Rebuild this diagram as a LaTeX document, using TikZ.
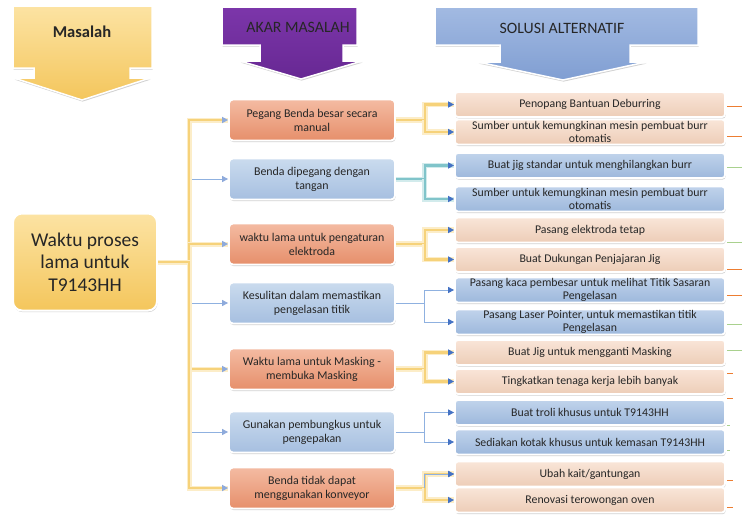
\documentclass[tikz,border=0pt]{standalone}
\usepackage{fontspec}
\setmainfont{Carlito}
\usepackage{xcolor}
\usepackage{tikz}
\usetikzlibrary{positioning,arrows.meta,shadows}

\definecolor{goldtop}{HTML}{FCE3A3}
\definecolor{goldbot}{HTML}{F4C65C}
\definecolor{purptop}{HTML}{7C36AA}
\definecolor{purpbot}{HTML}{672893}
\definecolor{soltop}{HTML}{A2BAE2}
\definecolor{solbot}{HTML}{809ED2}
\definecolor{midrtop}{HTML}{F4BBA2}
\definecolor{midrbot}{HTML}{E68F6B}
\definecolor{midbtop}{HTML}{CADBEE}
\definecolor{midbbot}{HTML}{A6BFE0}
\definecolor{solrtop}{HTML}{F9E5D8}
\definecolor{solrbot}{HTML}{EDCDB7}
\definecolor{solbtop}{HTML}{C0D3EB}
\definecolor{solbbot}{HTML}{9DB8DC}
\definecolor{yline}{HTML}{F6D27A}
\definecolor{yglow}{HTML}{FCEDC8}
\definecolor{tline}{HTML}{80C4CA}
\definecolor{tglow}{HTML}{D2EBEC}
\definecolor{bline}{HTML}{8FB1E0}
\definecolor{tipblue}{HTML}{4472C4}
\definecolor{tiplight}{HTML}{8EAADB}
\definecolor{stubor}{HTML}{ED7D31}
\definecolor{stubgr}{HTML}{A9D18E}
\definecolor{txt}{HTML}{262626}

\tikzset{
  softshadow/.style={drop shadow={shadow xshift=0.6pt,shadow yshift=-1.6pt,opacity=0.3,fill=black!60}},
  hdrshape/.style={draw=white,line width=1.5pt,softshadow},
  hdrtext/.style={text=txt,font=\fontsize{15.8}{17}\selectfont},
  mainbox/.style={rounded corners=9pt,draw=white,line width=2pt,softshadow,
    top color=goldtop,bottom color=goldbot,minimum width=144pt,minimum height=97pt,
    align=center,text=txt,font=\fontsize{19.5}{22.5}\selectfont},
  midbox/.style={rounded corners=4pt,draw=white,line width=1.8pt,softshadow,
    minimum width=166pt,minimum height=41pt,inner sep=1pt,
    align=center,text=txt,font=\fontsize{11.9}{14}\selectfont},
  midred/.style={midbox,top color=midrtop,bottom color=midrbot},
  midblue/.style={midbox,top color=midbtop,bottom color=midbbot},
  solbox/.style={rounded corners=3pt,draw=white,line width=1.8pt,softshadow,
    minimum width=270pt,minimum height=25pt,inner sep=1pt,
    align=center,text=txt,font=\fontsize{11.8}{12.5}\selectfont},
  solred/.style={solbox,top color=solrtop,bottom color=solrbot},
  solblue/.style={solbox,top color=solbtop,bottom color=solbbot},
  ybranch/.style={draw=yline,line width=2pt,-{Triangle[length=6pt,width=6pt,color=tiplight]},
    preaction={draw=yglow,line width=5pt,-}},
  bbranch/.style={draw=bline,line width=0.9pt,-{Triangle[length=6pt,width=6pt,color=tiplight]}},
  yfork/.style={draw=yline,line width=2.2pt,-{Triangle[length=6pt,width=6pt,color=tipblue]},
    preaction={draw=yglow,line width=5.5pt,-}},
  tfork/.style={draw=tline,line width=2.2pt,-{Triangle[length=6pt,width=6pt,color=tipblue]},
    preaction={draw=tglow,line width=5pt,-}},
  bfork/.style={draw=bline,line width=1pt,-{Triangle[length=6pt,width=6pt,color=tipblue]}},
  stub/.style={line width=1pt}
}

\begin{document}
\begin{tikzpicture}[x=1pt,y=-1pt]
\useasboundingbox (0,0) rectangle (742,517);

% column headers
\draw[hdrshape,top color=goldtop,bottom color=goldbot]
  (13,6) -- (152,6) -- (152,68) -- (130,68) -- (130,78) -- (150,78)
  -- (82,100) -- (14,78) -- (34,78) -- (34,68) -- (13,68) -- cycle;
\draw[hdrshape,top color=purptop,bottom color=purpbot]
  (222,7) -- (357,7) -- (357,45) -- (343,45) -- (343,61) -- (362,61)
  -- (301,79) -- (240,61) -- (260,61) -- (260,45) -- (222,45) -- cycle;
\draw[hdrshape,top color=soltop,bottom color=solbot]
  (435,7) -- (698,7) -- (698,45) -- (630,45) -- (630,62) -- (646,62)
  -- (563,80) -- (478,62) -- (500,62) -- (500,45) -- (435,45) -- cycle;
\node[hdrtext,font=\fontsize{16.5}{18}\selectfont\bfseries] (hMasalah) at (82,32) {Masalah};
\node[hdrtext] (hAkar) at (298,27) {AKAR MASALAH};
\node[hdrtext] (hSolusi) at (562,28) {SOLUSI ALTERNATIF};

% problem
\node[mainbox] (main) at (85,262) {Waktu proses\\lama untuk\\T9143HH};
\coordinate (t) at (189,262);

% root causes
\node[midred]  (m1) at (312,120) {Pegang Benda besar secara\\manual};
\node[midblue] (m2) at (312,179) {Benda dipegang dengan\\tangan};
\node[midred]  (m3) at (312,244) {waktu lama untuk pengaturan\\elektroda};
\node[midblue] (m4) at (312,303) {Kesulitan dalam memastikan\\pengelasan titik};
\node[midred]  (m5) at (312,369) {Waktu lama untuk Masking -\\membuka Masking};
\node[midblue] (m6) at (312,432) {Gunakan pembungkus untuk\\pengepakan};
\node[midred]  (m7) at (312,488) {Benda tidak dapat\\menggunakan konveyor};

% alternative solutions
\node[solred]  (r1)  at (590,104.5) {Penopang Bantuan Deburring};
\node[solred]  (r2)  at (590,132) {Sumber untuk kemungkinan mesin pembuat burr\\otomatis};
\node[solblue] (r3)  at (590,165.5) {Buat jig standar untuk menghilangkan burr};
\node[solblue] (r4)  at (590,199) {Sumber untuk kemungkinan mesin pembuat burr\\otomatis};
\node[solred]  (r5)  at (590,230) {Pasang elektroda tetap};
\node[solred]  (r6)  at (590,259.5) {Buat Dukungan Penjajaran Jig};
\node[solblue] (r7)  at (590,290) {Pasang kaca pembesar untuk melihat Titik Sasaran\\Pengelasan};
\node[solblue] (r8)  at (590,322) {Pasang Laser Pointer, untuk memastikan titik\\Pengelasan};
\node[solred]  (r9)  at (590,352.5) {Buat Jig untuk mengganti Masking};
\node[solred]  (r10) at (590,381.5) {Tingkatkan tenaga kerja lebih banyak};
\node[solblue] (r11) at (590,412.5) {Buat troli khusus untuk T9143HH};
\node[solblue] (r12) at (590,442) {Sediakan kotak khusus untuk kemasan T9143HH};
\node[solred]  (r13) at (590,474) {Ubah kait/gantungan};
\node[solred]  (r14) at (590,500) {Renovasi terowongan oven};

% problem to causes
\draw[bbranch] (t) |- (m2.west);
\draw[bbranch] (t) |- (m4.west);
\draw[bbranch] (t) |- (m6.west);
\draw[ybranch] (main.east) -- (t) |- (m1.west);
\draw[ybranch] (main.east) -- (t) |- (m3.west);
\draw[ybranch] (main.east) -- (t) |- (m5.west);
\draw[ybranch] (main.east) -- (t) |- (m7.west);

% causes to solutions
\draw[yfork] (m1.east) -- ++(29,0) coordinate (f1) |- (r1.west);
\draw[yfork] (f1) |- (r2.west);
\draw[tfork] (m2.east) -- ++(29,0) coordinate (f2) |- (r3.west);
\draw[tfork] (f2) |- (r4.west);
\draw[yfork] (m3.east) -- ++(29,0) coordinate (f3) |- (r5.west);
\draw[yfork] (f3) |- (r6.west);
\draw[bfork] (m4.east) -- ++(29,0) coordinate (f4) |- (r7.west);
\draw[bfork] (f4) |- (r8.west);
\draw[yfork] (m5.east) -- ++(29,0) coordinate (f5) |- (r9.west);
\draw[yfork] (f5) |- (r10.west);
\draw[bfork] (m6.east) -- ++(29,0) coordinate (f6) |- (r11.west);
\draw[bfork] (f6) |- (r12.west);
\draw[yfork] (m7.east) -- ++(29,0) coordinate (f7) |- (r13.west);
\draw[yfork] (f7) |- (r14.west);
\draw[bfork] (f7) |- (r13.west);

% cut-off links on the right edge
\foreach \y/\c/\l in {106/stubor/17,136/stubor/17,167/stubgr/17,242/stubgr/17,
    269/stubor/17,295/stubor/17,324/stubgr/17,350/stubgr/17,373/stubor/6,
    398/stubor/6,425/stubgr/3,450/stubgr/3,480/stubor/6,507/stubor/6}
  \draw[stub,draw=\c] (727,\y) -- ++(\l,0);
\end{tikzpicture}
\end{document}
